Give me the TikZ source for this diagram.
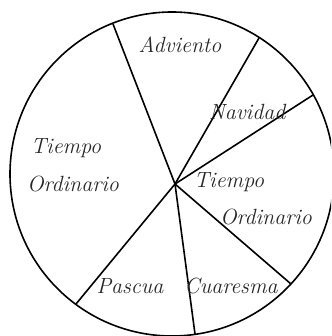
\documentclass[tikz,border=0pt]{standalone}
\usepackage{tikz}
\usetikzlibrary{positioning}
\newcommand{\chanc}{\itshape\fontsize{22}{26}\selectfont}

\begin{document}
\begin{tikzpicture}[x=1pt,y=-1pt,line width=1.6pt,
  season/.style={font=\chanc,inner sep=0pt,text=black!85}]
\useasboundingbox (0,0) rectangle (331,336);
\clip (0,0) rectangle (331,336);
% wheel
\coordinate (o) at (172,174);
\coordinate (hub) at (175,184);
\draw (o) circle[radius=162pt];
% spoke ends on the rim
\coordinate (toadv) at (113,24);
\coordinate (advnav) at (259,38);
\coordinate (navto) at (313,95);
\coordinate (tocua) at (291,284);
\coordinate (cuapas) at (195,334);
\coordinate (pasto) at (76,304);
\foreach \e in {toadv,advnav,navto,tocua,cuapas,pasto}
  \draw (hub) -- (\e);
% seasons
\node[season] (adv) at (180,45) {Adviento};
\node[season] (nav) at (247,112) {Navidad};
\node[season] (to1a) at (66,148) {Tiempo};
\node[season] (to1b) at (73,184) {Ordinario};
\node[season] (to2a) at (229,182) {Tiempo};
\node[season] (to2b) at (266,217) {Ordinario};
\node[season] (pas) at (130,286) {Pascua};
\node[season] (cua) at (231,286) {Cuaresma};
\end{tikzpicture}
\end{document}
